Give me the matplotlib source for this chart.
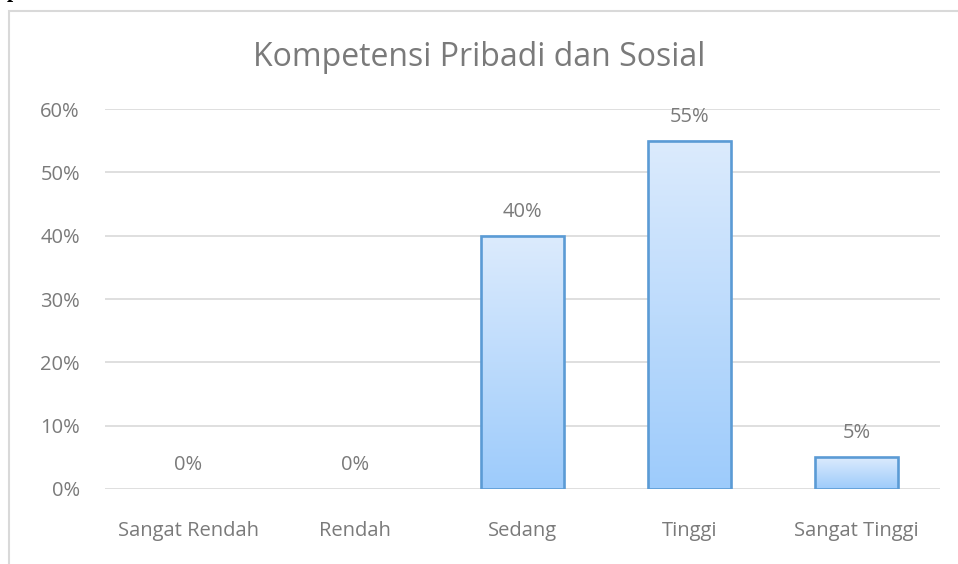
import numpy as np
import matplotlib.pyplot as plt
from matplotlib.patches import Rectangle
from matplotlib.colors import LinearSegmentedColormap

categories = ['Sangat Rendah', 'Rendah', 'Sedang', 'Tinggi', 'Sangat Tinggi']
values = [0.00, 0.00, 0.40, 0.55, 0.05]
yticks = [0, 0.1, 0.2, 0.3, 0.4, 0.5, 0.6]

plt.rcParams['font.family'] = ['Open Sans', 'DejaVu Sans']
grey = '#7a7a7a'

fig = plt.figure(figsize=(9.58, 5.64), dpi=100)
ax = fig.add_axes([0.1096, 0.133, 0.8714, 0.6737])

# outer chart frame (document crop)
top = 1 - 11 / 564
fig.patches.append(Rectangle((9 / 958, -0.1), 2, top + 0.1,
                             transform=fig.transFigure, fill=False,
                             edgecolor='#d9d9d9', linewidth=1.5))
fig.text(13 / 958, 1 - 2 / 564, 'p', fontsize=16, fontweight='bold', family='Liberation Serif',
         color='black', ha='center', va='bottom')

x = np.arange(len(categories))
bars = ax.bar(x, values, width=0.5, facecolor='none', edgecolor='#5b9bd5',
              linewidth=1.9, zorder=3)

grad = np.linspace(0, 1, 256).reshape(-1, 1)
cmap = LinearSegmentedColormap.from_list('g', ['#9dcbfb', '#dcebfd'])
for b in bars:
    if b.get_height() > 0:
        x0, w, h = b.get_x(), b.get_width(), b.get_height()
        ax.imshow(grad, extent=[x0, x0 + w, 0, h], origin='lower',
                  cmap=cmap, aspect='auto', zorder=2)
    else:
        b.set_linewidth(0)
for xi, v in zip(x, values):
    ax.text(xi, v + 0.022, f'{v:.0%}', ha='center', va='bottom',
            fontsize=14.5, color=grey)

ax.set_xlim(-0.5, len(categories) - 0.5)
ax.set_ylim(0, 0.6)
ax.set_yticks(yticks)
ax.set_yticklabels([f'{t:.0%}' for t in yticks])
ax.set_xticks(x)
ax.set_xticklabels(categories)
ax.tick_params(length=0, labelsize=14.5, colors=grey)
ax.tick_params(axis='y', pad=18)
ax.tick_params(axis='x', pad=23)
ax.grid(axis='y', color='#d9d9d9', linewidth=1.2, zorder=0)
ax.set_axisbelow(True)
for s in ax.spines.values():
    s.set_visible(False)

fig.text(0.5, 1 - 57 / 564, 'Kompetensi Pribadi dan Sosial', ha='center', va='center',
         fontsize=23, color=grey)

fig.savefig('out.png', dpi=100)
